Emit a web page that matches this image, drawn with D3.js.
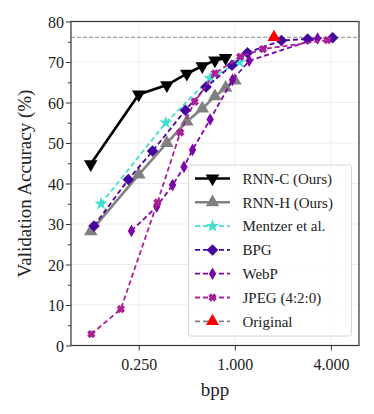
<!DOCTYPE html>
<html>
<head>
<meta charset="utf-8">
<script src="https://cdn.jsdelivr.net/npm/d3@7"></script>
<style>
  body { margin: 0; background: #fff; }
  svg { display: block; }
  svg text { font-family: "Liberation Serif", "Times New Roman", Times, "DejaVu Serif", "Noto Serif", serif !important; }
</style>
</head>
<body>
<div class="chart"></div>
<script>
var width = 374;
var height = 414;
var margin = {top: 21.5, right: 15, bottom: 68.5, left: 71};

// data
var rnnC_bpp = [0.125, 0.25, 0.375, 0.5, 0.625, 0.75, 0.875];
var rnnC_acc = [44.8, 62.0, 64.3, 67.1, 69.0, 70.4, 71.0];
var rnnH_bpp = [0.125, 0.25, 0.375, 0.5, 0.625, 0.75, 0.875, 1.0];
var rnnH_acc = [28.2, 42.2, 50.0, 55.3, 58.5, 61.5, 63.6, 65.4];
var mentzer_bpp = [0.145, 0.369, 0.70, 1.07];
var mentzer_acc = [35.0, 55.0, 66.0, 70.0];
var bpg_bpp = [0.131, 0.215, 0.305, 0.49, 0.66, 0.96, 1.2, 1.96, 2.86, 4.1];
var bpg_acc = [29.5, 41.0, 48.0, 58.1, 63.8, 69.2, 72.3, 75.3, 75.7, 76.0];
var webp_bpp = [0.225, 0.324, 0.407, 0.48, 0.543, 0.70, 0.967, 1.23, 3.3];
var webp_acc = [28.3, 34.3, 39.6, 44.1, 48.3, 55.8, 65.6, 70.3, 75.8];
var jpeg_bpp = [0.126, 0.193, 0.327, 0.455, 0.56, 0.75, 1.08, 1.5, 3.8];
var jpeg_acc = [2.8, 9.0, 35.3, 52.6, 60.2, 67.2, 71.3, 73.2, 75.4];
var original_bpp = [1.76];
var original_acc = [76.1];

var x_ticks = [0.25, 1, 4];
var y_ticks = [0, 10, 20, 30, 40, 50, 60, 70, 80];
var y_minor = [5, 15, 25, 35, 45, 55, 65, 75];

function zip(xs, ys){ return xs.map(function(x, i){ return {bpp: x, acc: ys[i]} }) }

var diamondSq = {draw: function(ctx, size){ var r = Math.sqrt(size) / Math.SQRT2; ctx.moveTo(0, -r); ctx.lineTo(r, 0); ctx.lineTo(0, r); ctx.lineTo(-r, 0); ctx.closePath() }};
var triDown = {draw: function(ctx, size){ var s = Math.sqrt(size * 4 / Math.sqrt(3)); var h = s * Math.sqrt(3) / 2; ctx.moveTo(-s/2, -h/3); ctx.lineTo(s/2, -h/3); ctx.lineTo(0, 2*h/3); ctx.closePath() }};
var triUp = {draw: function(ctx, size){ var s = Math.sqrt(size * 4 / Math.sqrt(3)); var h = s * Math.sqrt(3) / 2; ctx.moveTo(-s/2, h/3); ctx.lineTo(s/2, h/3); ctx.lineTo(0, -2*h/3); ctx.closePath() }};
// filled "X" marker
var xMark = {draw: function(ctx, size){ var a = Math.sqrt(size) / 2.2, b = a * 0.62; var pts = [[0,-b],[a-b,-a],[a,-a+b],[b,0],[a,a-b],[a-b,a],[0,b],[-a+b,a],[-a,a-b],[-b,0],[-a,-a+b],[-a+b,-a]]; ctx.moveTo(pts[0][0], pts[0][1]); pts.slice(1).forEach(function(p){ ctx.lineTo(p[0], p[1]) }); ctx.closePath() }};

var series = [
  {name: 'RNN-C (Ours)', data: zip(rnnC_bpp, rnnC_acc), color: '#000000', dash: null, lw: 2.6, sym: triDown, size: 80},
  {name: 'RNN-H (Ours)', data: zip(rnnH_bpp, rnnH_acc), color: '#808080', dash: null, lw: 2.6, sym: triUp, size: 80},
  {name: 'Mentzer et al.', data: zip(mentzer_bpp, mentzer_acc), color: '#40e0d0', dash: '5,3', lw: 1.8, sym: d3.symbolStar, size: 55},
  {name: 'BPG', data: zip(bpg_bpp, bpg_acc), color: '#45039f', dash: '5,3', lw: 1.8, sym: diamondSq, size: 66},
  {name: 'WebP', data: zip(webp_bpp, webp_acc), color: '#7e03a8', dash: '5,3', lw: 1.8, sym: d3.symbolDiamond, size: 46},
  {name: 'JPEG (4:2:0)', data: zip(jpeg_bpp, jpeg_acc), color: '#a82296', dash: '5,3', lw: 1.8, sym: xMark, size: 85},
  {name: 'Original', data: zip(original_bpp, original_acc), color: '#808080', dash: '5,3', lw: 1.8, sym: triUp, size: 75, fill: '#ff0000'}
];

var svg = d3.select('div.chart').append('svg')
    .attr('width', width)
    .attr('height', height)

var x_scale = d3.scaleLog().base(2)
    .domain([0.094, 6.0])
    .range([margin.left, width - margin.right])
var y_scale = d3.scaleLinear()
    .domain([0, 80])
    .range([height - margin.bottom, margin.top])

var x0 = margin.left, x1 = width - margin.right, y0 = height - margin.bottom, y1 = margin.top

// grid
svg.append('g').selectAll('line')
    .data(x_ticks).enter().append('line')
    .attr('x1', function(d){ return x_scale(d) }).attr('x2', function(d){ return x_scale(d) })
    .attr('y1', y0).attr('y2', y1)
    .attr('stroke', '#ebebeb').attr('stroke-width', 1)
svg.append('g').selectAll('line')
    .data(y_ticks).enter().append('line')
    .attr('x1', x0).attr('x2', x1)
    .attr('y1', function(d){ return y_scale(d) }).attr('y2', function(d){ return y_scale(d) })
    .attr('stroke', '#ebebeb').attr('stroke-width', 1)

// original accuracy line
svg.append('line')
    .attr('x1', x0).attr('x2', x1)
    .attr('y1', y_scale(original_acc[0])).attr('y2', y_scale(original_acc[0]))
    .attr('stroke', '#8c8c8c').attr('stroke-width', 1).attr('stroke-dasharray', '4,2')

var line = d3.line()
    .x(function(d){ return x_scale(d.bpp) })
    .y(function(d){ return y_scale(d.acc) })

series.forEach(function(s){
    var g = svg.append('g')
    if (s.data.length > 1) {
        g.append('path')
            .attr('d', line(s.data))
            .attr('fill', 'none')
            .attr('stroke', s.color)
            .attr('stroke-width', s.lw)
            .attr('stroke-dasharray', s.dash)
    }
    g.selectAll('path.m')
        .data(s.data).enter().append('path')
        .attr('class', 'm')
        .attr('d', d3.symbol().type(s.sym).size(s.size))
        .attr('transform', function(d){ return 'translate(' + x_scale(d.bpp) + ',' + y_scale(d.acc) + ')' })
        .attr('fill', s.fill || s.color)
})

// axes
var x_axis = d3.axisBottom(x_scale).tickValues(x_ticks).tickFormat(d3.format('.3f')).tickSize(5).tickSizeOuter(0)
var y_axis = d3.axisLeft(y_scale).tickValues(y_ticks).tickSize(5).tickSizeOuter(0)
var gx = svg.append('g').attr('transform', 'translate(0,' + y0 + ')').call(x_axis)
var gy = svg.append('g').attr('transform', 'translate(' + x0 + ',0)').call(y_axis)
svg.append('g').attr('transform', 'translate(' + x0 + ',0)')
    .call(d3.axisLeft(y_scale).tickValues(y_minor).tickSize(3).tickFormat(''))
    .select('.domain').remove()
;[gx, gy].forEach(function(g){
    g.select('.domain').remove()
    g.attr('font-family', null)
    g.selectAll('text').attr('fill', '#222').style('font-size', '16px')
})
svg.selectAll('.tick line').attr('stroke', '#333')
gx.selectAll('text').attr('dy', '1.05em')
gy.selectAll('text').attr('x', -7).attr('dy', '0.36em')

// frame
svg.append('rect')
    .attr('x', x0).attr('y', y1)
    .attr('width', x1 - x0).attr('height', y0 - y1)
    .attr('fill', 'none').attr('stroke', '#333').attr('stroke-width', 1.2)

svg.append('text')
    .attr('transform', 'rotate(-90)')
    .attr('x', -(y0 + y1) / 2)
    .attr('y', 31)
    .style('text-anchor', 'middle')
    .style('font-size', '19px')
    .attr('fill', '#222')
    .text('Validation Accuracy (%)')
svg.append('text')
    .attr('x', (x0 + x1) / 2)
    .attr('y', 396)
    .style('text-anchor', 'middle')
    .style('font-size', '19px')
    .attr('fill', '#222')
    .text('bpp')

// legend
var lg = svg.append('g').attr('transform', 'translate(188.5,165)')
lg.append('rect')
    .attr('width', 163).attr('height', 171).attr('rx', 2)
    .attr('fill', '#fff').attr('fill-opacity', 0.8)
    .attr('stroke', '#d6d6d6').attr('stroke-width', 1)
var rows = lg.selectAll('g.row').data(series).enter().append('g')
    .attr('transform', function(d, i){ return 'translate(0,' + (13.5 + i * 23.8) + ')' })
rows.append('line')
    .attr('x1', 6.5).attr('x2', 41.5)
    .attr('stroke', function(d){ return d.color })
    .attr('stroke-width', function(d){ return d.lw })
    .attr('stroke-dasharray', function(d){ return d.dash })
rows.append('path')
    .attr('d', function(d){ return d3.symbol().type(d.sym).size(d.size)() })
    .attr('transform', 'translate(24,0)')
    .attr('fill', function(d){ return d.fill || d.color })
rows.append('text')
    .attr('x', 54)
    .attr('dy', '0.35em')
    .style('font-size', '15px')
    .attr('fill', '#222')
    .text(function(d){ return d.name })
</script>
</body>
</html>
